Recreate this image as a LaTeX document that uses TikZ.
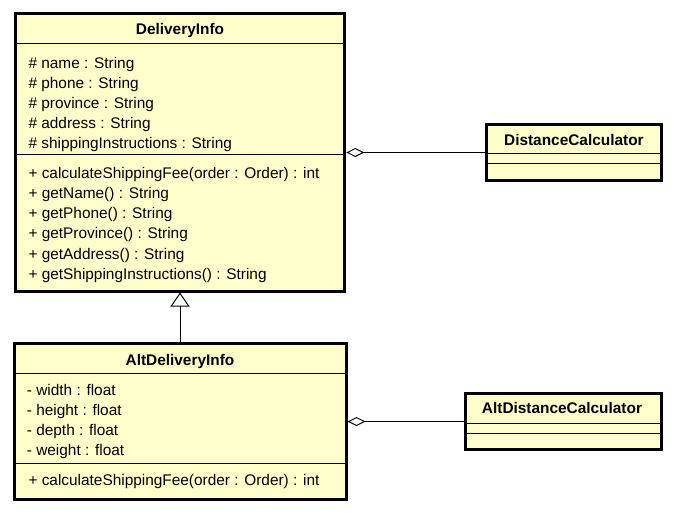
\documentclass[tikz,border=0pt]{standalone}
\usepackage{fontspec}
\setmainfont{Liberation Sans}
\usetikzlibrary{arrows.meta}
\definecolor{classfill}{RGB}{255,255,204}
\tikzstyle{class}=[rectangle, draw, line width=3pt, fill=classfill, inner sep=0]
\tikzstyle{title}=[anchor=base, inner sep=0, font=\fontsize{15.4}{18}\selectfont\bfseries]
\tikzstyle{member}=[anchor=base west, inner sep=0, font=\fontsize{15.4}{18}\selectfont]
\tikzstyle{divider}=[line width=1pt]
\tikzstyle{aggregation}=[line width=1pt, -{Diamond[open, length=18pt, width=9pt]}]
\tikzstyle{generalization}=[line width=1pt, -{Triangle[open, length=14pt, width=19pt]}]

\begin{document}
\begin{tikzpicture}[x=1pt,y=-1pt]
  \useasboundingbox[fill=white] (0,0) rectangle (674,513);

  %% Classes
  \draw (180,152.5) node[class, minimum width=329.5, minimum height=277] (DI) {};
  \draw (573.9,152.5) node[class, minimum width=174.3, minimum height=56.7] (DC) {};
  \draw (180,421.5) node[class, minimum width=332, minimum height=156.6] (ADI) {};
  \draw (563.8,421.5) node[class, minimum width=195.7, minimum height=56.7] (ADC) {};

  %% Compartments
  \draw[divider] (DI.west |- 0,44) -- (DI.east |- 0,44);
  \draw[divider] (DI.west |- 0,155) -- (DI.east |- 0,155);
  \draw[divider] (DC.west |- 0,153.3) -- (DC.east |- 0,153.3);
  \draw[divider] (DC.west |- 0,164) -- (DC.east |- 0,164);
  \draw[divider] (ADI.west |- 0,373.7) -- (ADI.east |- 0,373.7);
  \draw[divider] (ADI.west |- 0,463.3) -- (ADI.east |- 0,463.3);
  \draw[divider] (ADC.west |- 0,423) -- (ADC.east |- 0,423);
  \draw[divider] (ADC.west |- 0,433) -- (ADC.east |- 0,433);

  %% Names
  \draw (180,35) node[title] (DItitle) {DeliveryInfo};
  \draw (573.9,145.7) node[title] (DCtitle) {DistanceCalculator};
  \draw (180,365) node[title] (ADItitle) {AltDeliveryInfo};
  \draw (562,413.3) node[title] (ADCtitle) {AltDistanceCalculator};

  %% DeliveryInfo members
  \draw (28.3,68.3) node[member] (DIa1) {\# name : String};
  \draw (28.3,88.3) node[member] (DIa2) {\# phone : String};
  \draw (28.3,108.3) node[member] (DIa3) {\# province : String};
  \draw (28.3,128.3) node[member] (DIa4) {\# address : String};
  \draw (28.3,148.3) node[member] (DIa5) {\# shippingInstructions : String};

  \draw (28.3,178.3) node[member] (DIm1) {+ calculateShippingFee(order : Order) : int};
  \draw (28.3,198.5) node[member] (DIm2) {+ getName() : String};
  \draw (28.3,218.7) node[member] (DIm3) {+ getPhone() : String};
  \draw (28.3,238.9) node[member] (DIm4) {+ getProvince() : String};
  \draw (28.3,259.1) node[member] (DIm5) {+ getAddress() : String};
  \draw (28.3,279.3) node[member] (DIm6) {+ getShippingInstructions() : String};

  %% AltDeliveryInfo members
  \draw (26.7,395.7) node[member] (ADIa1) {- width : float};
  \draw (26.7,415.7) node[member] (ADIa2) {- height : float};
  \draw (26.7,435.7) node[member] (ADIa3) {- depth : float};
  \draw (26.7,455.9) node[member] (ADIa4) {- weight : float};

  \draw (28.3,485.3) node[member] (ADIm1) {+ calculateShippingFee(order : Order) : int};

  %% Relations
  \draw[aggregation] (DC) -- (DI);
  \draw[aggregation] (ADC) -- (ADI);
  \draw[generalization] (ADI) -- (DI);
\end{tikzpicture}
\end{document}
